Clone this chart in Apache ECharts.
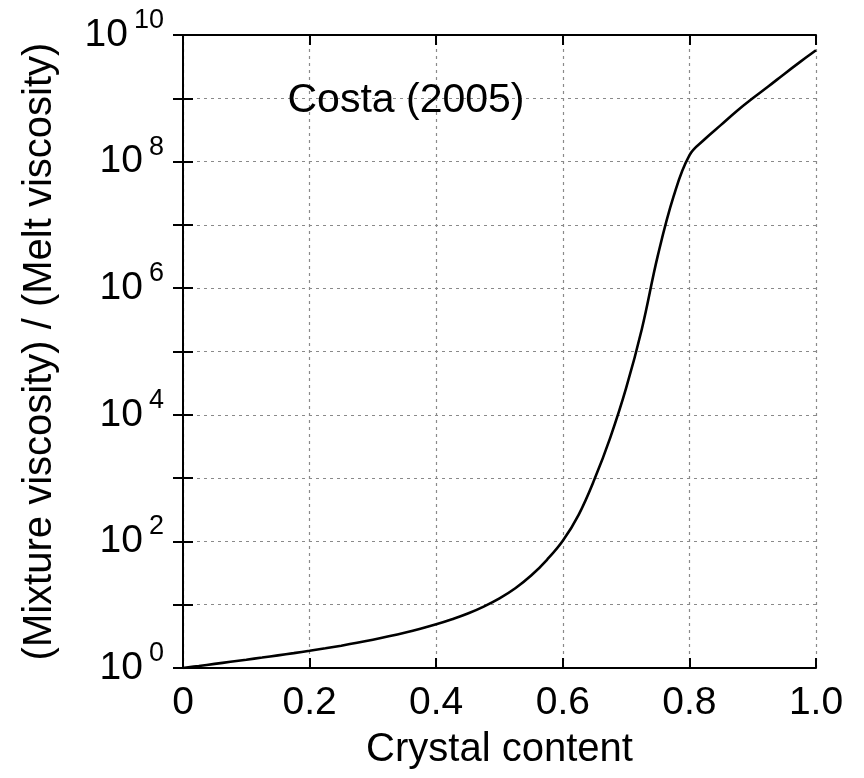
<!DOCTYPE html>
<html>
<head>
<meta charset="utf-8">
<script src="https://cdn.jsdelivr.net/npm/echarts@6/dist/echarts.min.js"></script>
<style>
  html, body { margin: 0; padding: 0; background: #fff; }
  #chart { width: 864px; height: 778px; }
</style>
</head>
<body>
<div id="chart"></div>
<script>
// Crystal content (volume fraction)
const crystalContent = [0, 0.025, 0.05, 0.075, 0.1, 0.125, 0.15, 0.175, 0.2, 0.225, 0.25, 0.275,
  0.3, 0.325, 0.35, 0.375, 0.4, 0.425, 0.45, 0.475, 0.5, 0.525, 0.55, 0.575, 0.6, 0.625, 0.65,
  0.675, 0.7, 0.725, 0.75, 0.775, 0.8, 0.825, 0.85, 0.875, 0.9, 0.925, 0.95, 0.975, 1.0];
// Relative viscosity: mixture viscosity / melt viscosity (Costa 2005 model)
const relativeViscosity = [1, 1.076, 1.161, 1.253, 1.352, 1.462, 1.585, 1.718, 1.871, 2.046,
  2.254, 2.5, 2.799, 3.162, 3.606, 4.169, 4.898, 5.888, 7.244, 9.333, 12.59, 18.2, 28.84,
  51.29, 102.3, 263, 955, 4365, 26300, 229100, 3236000, 28180000, 125900000, 229100000,
  380200000, 631000000, 1000000000, 1549000000, 2427000000, 3758000000, 5754000000];

const xTicks = [0, 0.2, 0.4, 0.6, 0.8, 1.0];
const xTickLabels = ['0', '0.2', '0.4', '0.6', '0.8', '1.0'];
const yLabelExponents = [0, 2, 4, 6, 8, 10];
const annotation = 'Costa (2005)';

const FONT = '"Liberation Sans", Arial, sans-serif';
const chart = echarts.init(document.getElementById('chart'));

const gridDash = { color: '#8a8a8a', width: 1.2, type: [3, 4] };
const frameLine = { show: true, lineStyle: { color: '#000', width: 2 } };
const innerTick = { show: true, inside: true, length: 10, lineStyle: { color: '#000', width: 2 } };

chart.setOption({
  animation: false,
  backgroundColor: '#fff',
  grid: { left: 183, top: 35, width: 633, height: 633, containLabel: false },
  title: {
    text: annotation,
    left: 401, top: 96, textAlign: 'center', textVerticalAlign: 'middle',
    textStyle: { fontFamily: FONT, fontSize: 41, fontWeight: 'normal', color: '#000' }
  },
  xAxis: [{
    type: 'value', min: 0, max: 1, interval: 0.2, position: 'bottom',
    name: 'Crystal content', nameLocation: 'middle', nameGap: 62,
    nameTextStyle: { fontFamily: FONT, fontSize: 40, color: '#000' },
    axisLine: frameLine,
    axisTick: innerTick,
    axisLabel: {
      fontFamily: FONT, fontSize: 39, color: '#000', margin: 16,
      formatter: v => {
        const i = xTicks.findIndex(t => Math.abs(t - v) < 1e-9);
        return i >= 0 ? xTickLabels[i] : '';
      }
    },
    splitLine: { show: true, lineStyle: gridDash }
  }, {
    type: 'value', min: 0, max: 1, interval: 0.2, position: 'top',
    axisLine: frameLine, axisTick: innerTick,
    axisLabel: { show: false }, splitLine: { show: false }
  }],
  yAxis: [{
    type: 'log', logBase: 10, min: 1, max: 1e10, interval: 1, position: 'left',
    name: '(Mixture viscosity) / (Melt viscosity)', nameLocation: 'middle', nameGap: 123,
    nameRotate: 90,
    nameTextStyle: { fontFamily: FONT, fontSize: 40, color: '#000' },
    axisLine: frameLine,
    axisTick: innerTick,
    axisLabel: {
      margin: 19,
      formatter: v => {
        const e = Math.round(Math.log10(v));
        return yLabelExponents.includes(e) ? '{b|10}{s|' + e + '}' : '';
      },
      rich: {
        b: { fontFamily: FONT, fontSize: 39, color: '#000', lineHeight: 56 },
        s: { fontFamily: FONT, fontSize: 27, color: '#000', verticalAlign: 'top',
             lineHeight: 27, padding: [0, 0, 0, 6] }
      }
    },
    splitLine: { show: true, lineStyle: gridDash }
  }, {
    type: 'log', logBase: 10, min: 1, max: 1e10, interval: 1, position: 'right',
    axisLine: frameLine, axisTick: innerTick,
    axisLabel: { show: false }, splitLine: { show: false }
  }],
  series: [{
    type: 'line',
    xAxisIndex: 0, yAxisIndex: 0,
    data: crystalContent.map((x, i) => [x, relativeViscosity[i]]),
    smooth: 0.4,
    showSymbol: false,
    lineStyle: { color: '#000', width: 2.6 }
  }]
});
</script>
</body>
</html>
